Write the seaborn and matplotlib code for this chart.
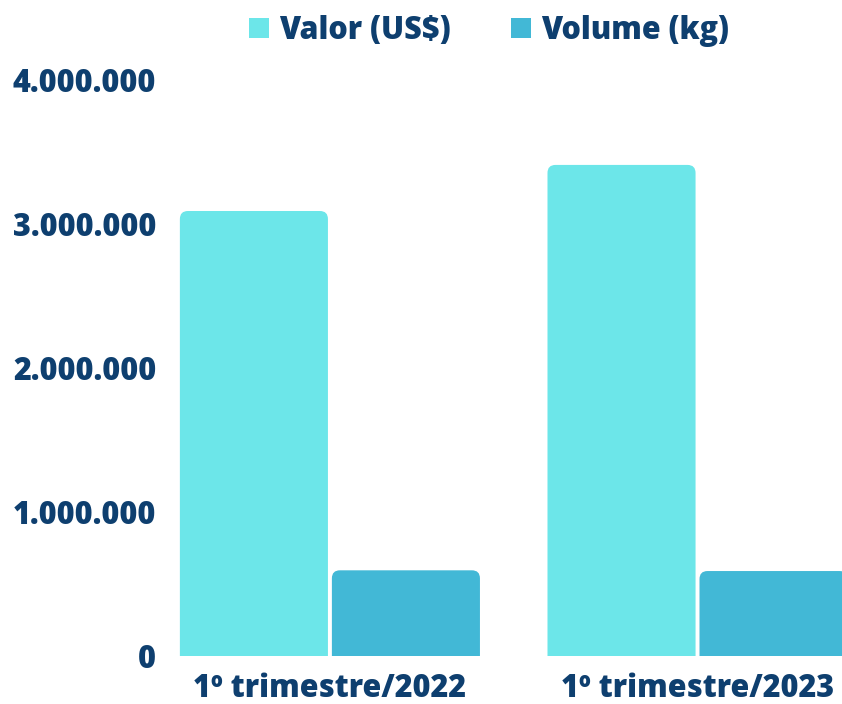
import pandas as pd
import numpy as np
import matplotlib.pyplot as plt
import seaborn as sns
from matplotlib.patches import FancyBboxPatch, Patch
from matplotlib.ticker import FuncFormatter

periodos = ['1º trimestre/2022', '1º trimestre/2023']
series = ['Valor (US$)', 'Volume (kg)']
valor = [3090000, 3410000]
volume = [595000, 590000]
yticks = [0, 1000000, 2000000, 3000000, 4000000]

cores = ['#6ce6e9', '#42b8d6']
texto = '#0e3f6f'
peso = 800

df = pd.DataFrame({
    'periodo': periodos * 2,
    'serie': [series[0]] * 2 + [series[1]] * 2,
    'valor': valor + volume,
})

sns.set_theme(style='white')
plt.rcParams['font.family'] = ['Open Sans', 'DejaVu Sans']
plt.rcParams['font.weight'] = peso

fig = plt.figure(figsize=(8.42, 7.04), dpi=100)
# axes placed in pixels: left 170, bottom 48, top 50 from top
ax = fig.add_axes([170 / 842, 48 / 704, 1 - 170 / 842, (704 - 48 - 50) / 704])

sns.barplot(data=df, x='periodo', y='valor', hue='serie', palette=cores,
            saturation=1, width=0.827, gap=0.026, legend=False, ax=ax)

ax.set_xlim(-0.435, 1.393)
ax.set_ylim(0, 4208000)

# rounded tops
rx = 8 / 367.5
ry = 8 / 144 * 1e6
for cont, cor in zip(ax.containers, cores):
    for bar in cont:
        x, w, h = bar.get_x(), bar.get_width(), bar.get_height()
        bar.set_visible(False)
        ax.add_patch(FancyBboxPatch((x, -ry), w, h + ry,
                                    boxstyle=f'round,pad=0,rounding_size={rx}',
                                    mutation_aspect=ry / rx, fc=cor, ec='none'))

ax.set_yticks(yticks)
ax.yaxis.set_major_formatter(FuncFormatter(lambda v, p: f'{int(v):,}'.replace(',', '.')))
ax.tick_params(axis='both', length=0, labelsize=22, labelcolor=texto)
ax.tick_params(axis='y', pad=10)
ax.tick_params(axis='x', pad=12)
for lbl in ax.get_xticklabels() + ax.get_yticklabels():
    lbl.set_fontweight(peso)
ax.set_xlabel('')
ax.set_ylabel('')
sns.despine(ax=ax, left=True, bottom=True)

handles = [Patch(fc=c, ec='none') for c in cores]
leg = fig.legend(handles, series, loc='center', bbox_to_anchor=(489 / 842, 1 - 31 / 704),
                 ncol=2, frameon=False, handlelength=0.65, handleheight=0.65,
                 handletextpad=0.35, columnspacing=1.95,
                 prop={'size': 22, 'weight': peso})
for t in leg.get_texts():
    t.set_color(texto)

fig.savefig('out.png', dpi=100)
